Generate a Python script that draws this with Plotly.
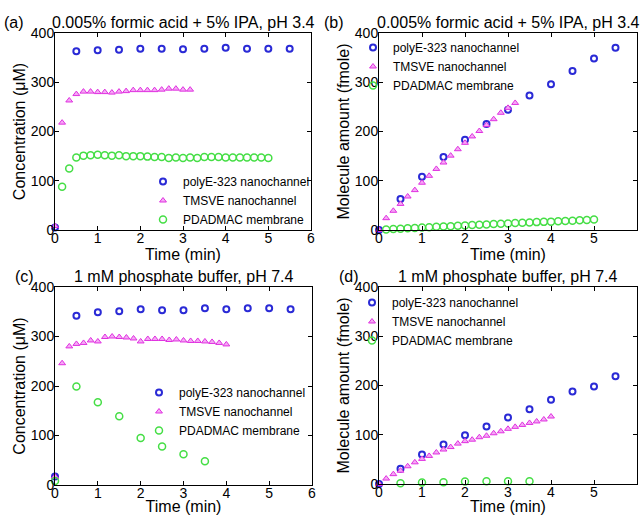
import plotly.graph_objects as go

# ---------------- data ----------------
series_names = ["polyE-323 nanochannel", "TMSVE nanochannel", "PDADMAC membrane"]
panel_titles = ["0.005% formic acid + 5% IPA, pH 3.4", "0.005% formic acid + 5% IPA, pH 3.4",
                "1 mM phosphate buffer, pH 7.4", "1 mM phosphate buffer, pH 7.4"]
panel_labels = ["(a)", "(b)", "(c)", "(d)"]
y_titles = ["Concentration (\u03bcM)", "Molecule amount (fmole)",
            "Concentration (\u03bcM)", "Molecule amount (fmole)"]
x_title = "Time (min)"
x_ticks = [0, 1, 2, 3, 4, 5, 6]
y_ticks = [0, 100, 200, 300, 400]

# times (min) for polyE-323 (every 30 s)
t_polyE = [0, 0.5, 1.0, 1.5, 2.0, 2.5, 3.0, 3.5, 4.0, 4.5, 5.0, 5.5]
# times in seconds for TMSVE / PDADMAC sampling
t_tmsve_ab_s = [0, 10, 20, 30, 40, 50, 60, 70, 80, 90, 100, 110, 120, 130, 140, 150, 160, 170, 180, 190]
t_tmsve_cd_s = [0, 10, 20, 30, 40, 50, 60, 70, 80, 90, 100, 110, 120, 130, 140, 150, 160, 170, 180, 190,
                200, 210, 220, 230, 240]
t_pdad_ab_s = [10, 20, 30, 40, 50, 60, 70, 80, 90, 100, 110, 120, 130, 140, 150, 160, 170, 180, 190, 200,
               210, 220, 230, 240, 250, 260, 270, 280, 290, 300]
t_pdad_c = [0, 0.5, 1.0, 1.5, 2.0, 2.5, 3.0, 3.5]
t_pdad_d = [0.5, 1.0, 1.5, 2.0, 2.5, 3.0, 3.5]

# (a) concentration, formic acid
polyE_a = [5, 363, 365, 366, 368, 368, 367, 368, 370, 368, 368, 368]
tmsve_a = [8, 218, 263, 276, 281, 281, 280, 280, 279, 281, 282, 284, 284, 284, 284, 285, 287, 287, 285, 285]
pdad_a = [88, 125, 147, 151, 152, 153, 152, 151, 152, 150, 150, 150, 149, 148, 148, 146, 147, 146, 147, 146,
          148, 148, 148, 147, 147, 147, 147, 147, 147, 146]
# (b) molecule amount, formic acid
polyE_b = [0, 63, 108, 148, 183, 215, 244, 273, 296, 323, 348, 370]
tmsve_b = [0, 24, 39, 53, 68, 81, 96, 110, 124, 137, 151, 164, 177, 190, 201, 213, 225, 238, 248, 258]
pdad_b = [1, 2, 2.5, 3.5, 4, 5, 5.5, 6.5, 7, 7.5, 8.5, 9, 10, 10.5, 11, 12, 12.5, 13, 14, 14.5,
          15, 16, 16.5, 17, 18, 18.5, 19, 20, 20.5, 21.5]
# (c) concentration, phosphate buffer
polyE_c = [17, 342, 349, 351, 355, 353, 353, 357, 355, 357, 357, 355]
tmsve_c = [17, 246, 280, 285, 287, 292, 290, 299, 300, 299, 298, 296, 290, 295, 295, 295, 293, 294, 292, 291,
           291, 290, 289, 287, 284]
pdad_c = [8, 199, 167, 139, 95, 78, 62, 48]
# (d) molecule amount, phosphate buffer
polyE_d = [0, 31, 60, 80, 99, 117, 135, 152, 171, 188, 198, 219]
tmsve_d = [0, 11, 20, 27, 36, 44, 51, 57, 64, 70, 75, 82, 87, 90, 95, 98, 103, 107, 112, 116, 120, 124, 127,
           131, 137]
pdad_d = [1.5, 3, 3.5, 5, 5.5, 5.5, 5.5]

# ---------------- styling ----------------
W, H = 641, 515
FONT = "Arial, Liberation Sans, Helvetica, sans-serif"
blue_marker = dict(symbol="circle-open", size=6, color="#2a2ad6", line=dict(width=2))
mag_marker = dict(symbol="triangle-up", size=6, color="#f5a8f5", line=dict(color="#e030e0", width=1))
green_marker = dict(symbol="circle-open", size=7, color="#45de45", line=dict(width=1.5))

# plot areas in pixels: (left, right, top, bottom)
areas = [(55, 311, 33, 230), (379, 637, 33, 230), (55, 312, 287, 485), (379, 637, 287, 484)]
# legend: (text start x px, top y px)
legend_pos = [(183, 167), (393, 33), (179, 378), (392, 288)]
label_x = [2, 322, 13, 337]
title_y = [22, 22, 276, 276]

panels = [
    (t_polyE, polyE_a, [s / 60 for s in t_tmsve_ab_s], tmsve_a, [s / 60 for s in t_pdad_ab_s], pdad_a),
    (t_polyE, polyE_b, [s / 60 for s in t_tmsve_ab_s], tmsve_b, [s / 60 for s in t_pdad_ab_s], pdad_b),
    (t_polyE, polyE_c, [s / 60 for s in t_tmsve_cd_s], tmsve_c, t_pdad_c, pdad_c),
    (t_polyE, polyE_d, [s / 60 for s in t_tmsve_cd_s], tmsve_d, t_pdad_d, pdad_d),
]

fig = go.Figure()
layout = dict(width=W, height=H, autosize=False, margin=dict(l=0, r=0, t=0, b=0, pad=0, autoexpand=False),
              paper_bgcolor="white", plot_bgcolor="white",
              font=dict(family=FONT, size=14, color="black"), annotations=[])

for i, (tp, yp, tt, yt, tg, yg) in enumerate(panels):
    n = "" if i == 0 else str(i + 1)
    leg = "legend" + n
    xa, ya = "x" + n, "y" + n
    for name, xs, ys, mk in [(series_names[0], tp, yp, blue_marker),
                             (series_names[1], tt, yt, mag_marker),
                             (series_names[2], tg, yg, green_marker)]:
        fig.add_trace(go.Scatter(x=xs, y=ys, mode="markers", name=name, marker=mk,
                                 xaxis=xa, yaxis=ya, legend=leg, cliponaxis=False))
    l, r, t, b = areas[i]
    axis_common = dict(ticks="inside", ticklen=4, tickwidth=1, tickcolor="black", mirror="allticks",
                       showline=True, linecolor="black", linewidth=1, showgrid=False, zeroline=False,
                       tickfont=dict(size=14), automargin=False)
    layout["xaxis" + n] = dict(domain=[l / W, r / W], range=[0, 6], tickvals=x_ticks, anchor=ya,
                               ticklabelstandoff=-5,
                               title=dict(text=x_title, font=dict(size=16), standoff=0), **axis_common)
    layout["yaxis" + n] = dict(domain=[1 - b / H, 1 - t / H], range=[0, 400], tickvals=y_ticks, anchor=xa,
                               ticklabelstandoff=-3,
                               title=dict(text=y_titles[i], font=dict(size=16), standoff=1), **axis_common)
    lx, ly = legend_pos[i]
    layout[leg] = dict(x=(lx - 40) / W, y=1 - ly / H, xanchor="left", yanchor="top",
                       bgcolor="rgba(0,0,0,0)", font=dict(size=12), borderwidth=0)
    layout["annotations"].append(dict(text=panel_labels[i], x=label_x[i] / W, y=1 - title_y[i] / H,
                                      xref="paper", yref="paper", xanchor="left", yanchor="middle",
                                      showarrow=False, font=dict(size=16)))
    layout["annotations"].append(dict(text=panel_titles[i], x=(l + r) / 2 / W, y=1 - title_y[i] / H,
                                      xref="paper", yref="paper", xanchor="center", yanchor="middle",
                                      showarrow=False, font=dict(size=16)))

fig.update_layout(**layout)
fig.write_html("out.html", config={"displayModeBar": False},
               post_script="document.body.style.margin='0';document.body.style.overflow='hidden';")
